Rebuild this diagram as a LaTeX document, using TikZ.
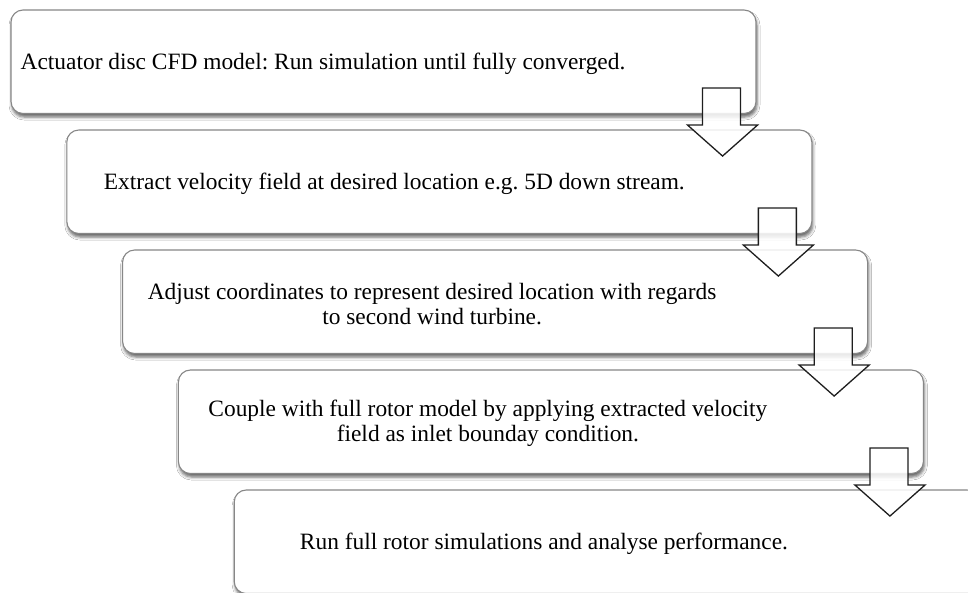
\documentclass[tikz,border=0pt]{standalone}
\usepackage{fontspec}
\setmainfont{Liberation Serif}
\usetikzlibrary{calc,shadows.blur}
\definecolor{boxgray}{RGB}{135,135,135}
\definecolor{arrowink}{RGB}{30,30,30}
\frenchspacing
\begin{document}
\begin{tikzpicture}[x=1pt,y=-1pt,
  stepbox/.style={draw=boxgray, line width=1.1pt, fill=white, rounded corners=12pt,
    minimum width=745pt, minimum height=103.5pt, inner sep=0pt,
    blur shadow={shadow xshift=1pt, shadow yshift=-3.5pt, shadow blur radius=3pt, shadow opacity=60}},
  steptext/.style={font=\fontsize{23.4}{25}\selectfont, align=center, inner sep=0pt, yshift=-2pt},
  downarrow/.style={draw=arrowink, line width=1.3pt, fill=white, fill opacity=0.85, line join=miter}]
\clip (0,0) rectangle (968,592);
\fill[white] (0,0) rectangle (968,592);

% five process steps, each shifted right and down
\foreach \i in {1,...,5}{
  \node[stepbox] (s\i) at ({383.5+55.8*(\i-1)},{61.75+120*(\i-1)}) {};
}

% step texts
\node[steptext] (t1) at ($(s1.center)+(-60.5,0)$) {Actuator disc CFD model: Run simulation until fully converged.};
\node[steptext] (t2) at ($(s2.center)+(-45,0)$) {Extract velocity field at desired location e.g. 5D down stream.};
\node[steptext] (t3) at ($(s3.center)+(-63,0)$) {Adjust coordinates to represent desired location with regards\\to second wind turbine.};
\node[steptext] (t4) at ($(s4.center)+(-63,0)$) {Couple with full rotor model by applying extracted velocity\\field as inlet bounday condition.};
\node[steptext] (t5) at ($(s5.center)+(-62.7,0)$) {Run full rotor simulations and analyse performance.};

% block arrows leading from each step down to the next
\foreach \i in {1,...,4}{
  \draw[downarrow]
    ($(s\i.south east)+(-54,-26)$) -- ($(s\i.south east)+(-16,-26)$)
    -- ($(s\i.south east)+(-16,11)$) -- ($(s\i.south east)+(1,11)$)
    -- ($(s\i.south east)+(-34,42)$) -- ($(s\i.south east)+(-69,11)$)
    -- ($(s\i.south east)+(-54,11)$) -- cycle;
}
\end{tikzpicture}
\end{document}
